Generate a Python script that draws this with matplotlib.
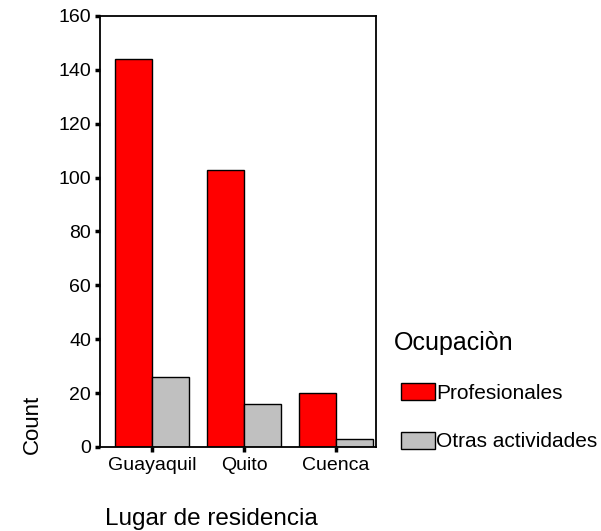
import matplotlib.pyplot as plt
import numpy as np

plt.rcParams['font.family'] = ['Liberation Sans', 'DejaVu Sans']

# datos
lugares = ['Guayaquil', 'Quito', 'Cuenca']
profesionales = [144, 103, 20]
otras = [26, 16, 3]
series = ['Profesionales', 'Otras actividades']

fig = plt.figure(figsize=(6.01, 5.31), dpi=100)
ax = fig.add_axes([0.1664, 0.1582, 0.4592, 0.8117])

x = np.arange(len(lugares))
w = 0.40
ax.bar(x - w / 2, profesionales, w, color='#ff0000', edgecolor='black', linewidth=1, label=series[0])
ax.bar(x + w / 2, otras, w, color='#c0c0c0', edgecolor='black', linewidth=1, label=series[1])

ax.set_xlim(-0.565, 2.435)
ax.set_ylim(0, 160)
ax.set_yticks(range(0, 161, 20))
ax.set_xticks(x)
ax.set_xticklabels(lugares)
ax.tick_params(axis='y', direction='out', length=3.5, width=2.5, labelsize=14, pad=3)
ax.tick_params(axis='x', direction='out', length=3.5, width=2.5, labelsize=14, pad=4)
for s in ax.spines.values():
    s.set_linewidth(1.3)

fig.text(32 / 601, 1 - 424 / 531, 'Count', rotation=90, ha='center', va='center', fontsize=16)
fig.text(211 / 601, 1 - 519 / 531, 'Lugar de residencia', ha='center', va='center', fontsize=17.5)

# leyenda
fig.text(394 / 601, 1 - 343 / 531, 'Ocupaciòn', ha='left', va='center', fontsize=18)
leg = fig.legend(loc='upper left', bbox_to_anchor=(401 / 601, 1 - 383 / 531),
                 frameon=False, fontsize=15, borderpad=0, borderaxespad=0,
                 handlelength=1.63, handleheight=0.87, labelspacing=1.4,
                 handletextpad=0.05)

fig.savefig('out.png', dpi=100)
